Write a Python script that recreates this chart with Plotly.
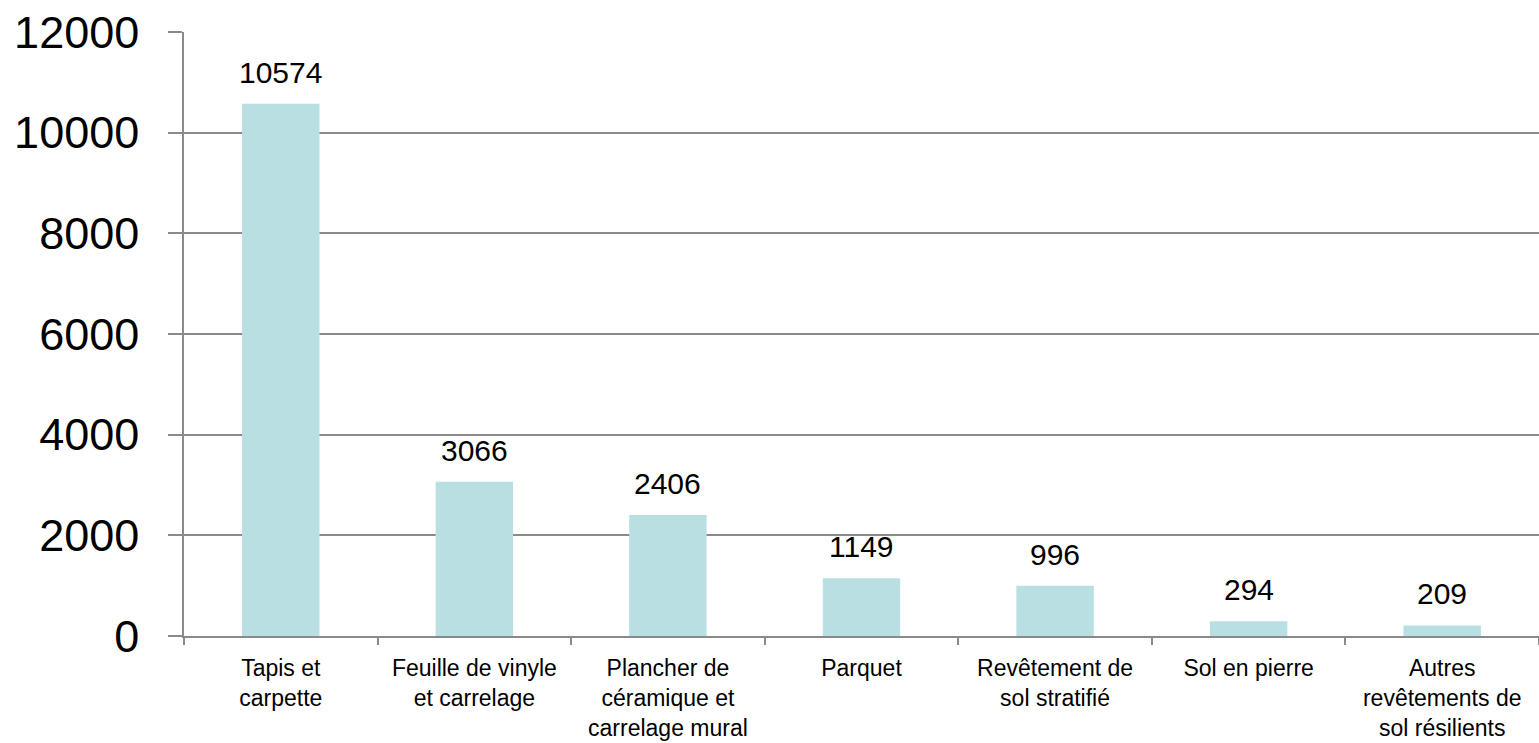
import plotly.graph_objects as go

categories = [
    "Tapis et<br>carpette",
    "Feuille de vinyle<br>et carrelage",
    "Plancher de<br>céramique et<br>carrelage mural",
    "Parquet",
    "Revêtement de<br>sol stratifié",
    "Sol en pierre",
    "Autres<br>revêtements de<br>sol résilients",
]
values = [10574, 3066, 2406, 1149, 996, 294, 209]
y_ticks = [0, 2000, 4000, 6000, 8000, 10000, 12000]

BAR = "#B9DFE2"
GRID = "#8A8A8A"
FONT = "Liberation Sans, Arial, sans-serif"

fig = go.Figure(
    go.Bar(
        x=categories,
        y=values,
        marker=dict(color=BAR, line=dict(width=0)),
        width=0.4,
        hoverinfo="skip",
    )
)

for c, v in zip(categories, values):
    fig.add_annotation(
        x=c, y=v, text=str(v), showarrow=False, yanchor="bottom", yshift=13,
        font=dict(family=FONT, size=30, color="#000000"),
    )

fig.update_layout(
    width=1539,
    height=743,
    margin=dict(l=184, r=0, t=32, b=107),
    paper_bgcolor="white",
    plot_bgcolor="white",
    showlegend=False,
    font=dict(family=FONT, color="#000000"),
)
fig.update_xaxes(
    type="category",
    automargin=False,
    tickson="boundaries",
    ticks="outside",
    ticklen=7,
    tickcolor=GRID,
    tickwidth=1.5,
    showline=True,
    linecolor=GRID,
    linewidth=1.5,
    showgrid=False,
    tickfont=dict(family=FONT, size=23, color="#000000"),
    tickangle=0,
    ticklabelstandoff=11,
)
fig.update_yaxes(
    automargin=False,
    range=[0, 12000],
    tickvals=y_ticks,
    ticktext=[str(t) for t in y_ticks],
    ticks="outside",
    ticklen=14,
    tickcolor=GRID,
    tickwidth=1.5,
    showline=True,
    linecolor=GRID,
    linewidth=1.5,
    showgrid=True,
    gridcolor=GRID,
    gridwidth=1.5,
    zeroline=False,
    tickfont=dict(family=FONT, size=45, color="#000000"),
    ticklabelstandoff=20,
)

fig.write_html(
    "out.html",
    config={"displayModeBar": False},
    post_script="document.body.style.margin='0';document.body.style.overflow='hidden';",
)
